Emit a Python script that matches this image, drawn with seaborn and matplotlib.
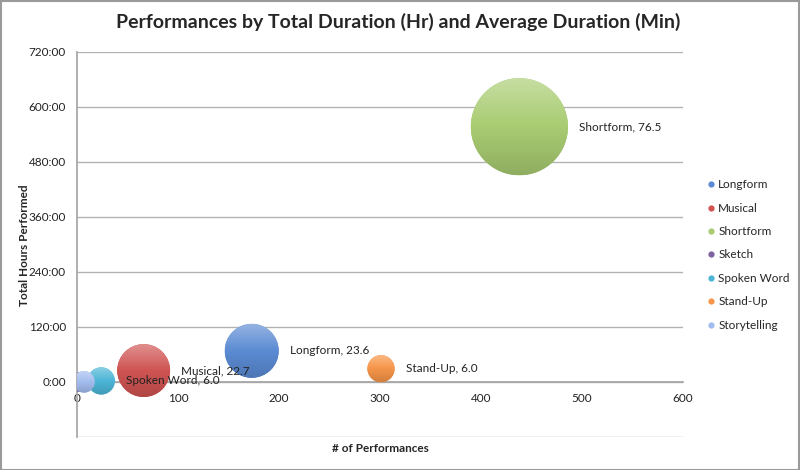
import matplotlib
matplotlib.use("Agg")
import matplotlib.pyplot as plt
import seaborn as sns
import pandas as pd
import numpy as np
from matplotlib.lines import Line2D
from matplotlib.patches import Rectangle, Circle
from matplotlib.colors import to_rgb, LinearSegmentedColormap
from matplotlib.transforms import IdentityTransform

categories = ["Longform", "Musical", "Shortform", "Sketch", "Spoken Word", "Stand-Up", "Storytelling"]
performances = [173, 66, 438, 2, 24, 301, 7]
total_hours = [68, 25, 557, 0.1, 2.4, 29, 0.4]
avg_minutes = [23.6, 22.7, 76.5, 3.0, 6.0, 6.0, 3.8]
show_label = [True, True, True, False, True, True, False]
colors = ["#5b8bd3", "#cf5452", "#a9cc72", "#8064a2", "#4cb5d6", "#f7964a", "#a3bcef"]

y_ticks = [-120, 0, 120, 240, 360, 480, 600, 720]
x_ticks = [0, 100, 200, 300, 400, 500, 600]

sns.set_theme(style="white")
plt.rcParams['font.family'] = ['Lato', 'DejaVu Sans']

df = pd.DataFrame({"cat": categories, "n": performances, "hrs": total_hours, "avg": avg_minutes})

DPI = 100
fig = plt.figure(figsize=(8, 4.7), dpi=DPI)
ax = fig.add_axes([77/800, 1-437/470, (683-77)/800, (437-52)/470])

K = 64.0
sns.scatterplot(data=df, x="n", y="hrs", hue="cat", palette=colors, size="avg",
                sizes=(0, K*100), size_norm=(0, 100), legend=False, ax=ax,
                edgecolor="none", alpha=1.0, zorder=3)

for s in ["top", "right"]:
    ax.spines[s].set_visible(False)
ax.spines["bottom"].set_position(("data", 0))
ax.spines["left"].set_color("#a6a6a6")
ax.spines["bottom"].set_color("#a6a6a6")

ax.set_xlim(0, 600)
ax.set_ylim(-120, 720)
ax.set_yticks(y_ticks)
ax.set_yticklabels(["" if v < 0 else f"{v}:00" for v in y_ticks], fontsize=8.5, color="#222222")
ax.set_xticks(x_ticks)
ax.set_xticklabels([str(v) for v in x_ticks], fontsize=8.5, color="#222222")
ax.grid(axis="y", color="#b3b3b3", lw=1)
ax.set_axisbelow(True)
ax.tick_params(axis="both", length=4, width=1, color="#a6a6a6", direction="out", pad=4)

# vertical gradient shading on each bubble (light top, darker bottom)
grad = np.linspace(0, 1, 256).reshape(-1, 1)
inv = ax.transData.inverted()
for n, h, a, col in zip(performances, total_hours, avg_minutes, colors):
    c = np.array(to_rgb(col))
    light = c + (1 - c) * 0.35
    dark = c * 0.85
    cmap = LinearSegmentedColormap.from_list("g", [light, c, dark])
    cx, cy = ax.transData.transform((n, h))
    r = np.sqrt(K * a) / 2 * DPI / 72
    (x0, y0) = inv.transform((cx - r, cy - r))
    (x1, y1) = inv.transform((cx + r, cy + r))
    im = ax.imshow(grad, cmap=cmap, extent=(x0, x1, y0, y1), origin="upper",
                   aspect="auto", zorder=4, interpolation="bilinear")
    im.set_clip_path(Circle((cx, cy), r, transform=IdentityTransform()))
ax.set_xlim(0, 600)
ax.set_ylim(-120, 720)

ax.set_xlabel("")
ax.set_ylabel("")
fig.text(380/800, 1-448/470, "# of Performances", ha="center", va="center", fontsize=8.5, fontweight="bold")
fig.text(25/800, 1-245/470, "Total Hours Performed", ha="center", va="center", rotation=90, fontsize=8.5, fontweight="bold")
fig.text(398/800, 1-22/470, "Performances by Total Duration (Hr) and Average Duration (Min)",
         ha="center", va="center", fontsize=14, fontweight="bold")

for c, n, h, a, sl in zip(categories, performances, total_hours, avg_minutes, show_label):
    if not sl:
        continue
    r_pt = np.sqrt(K*a)/2
    ax.annotate(f"{c}, {a:.1f}", xy=(n, h), xytext=(r_pt + 8, 0), textcoords="offset points",
                ha="left", va="center", fontsize=8.5, color="#222222", zorder=6)

handles = [Line2D([], [], marker="o", linestyle="none", markersize=4.5, markerfacecolor=col,
                  markeredgecolor="none") for col in colors]
fig.legend(handles, categories, loc="center left", bbox_to_anchor=(704/800, 1-255/470),
           frameon=False, fontsize=8.5, handletextpad=0.0, labelspacing=1.05, handlelength=1.2,
           borderaxespad=0, borderpad=0)

fig.add_artist(Rectangle((0.001, 0.001), 0.998, 0.997, transform=fig.transFigure, fill=False,
                         edgecolor="#9a9a9a", lw=1.5))

fig.savefig("out.png", dpi=DPI)
